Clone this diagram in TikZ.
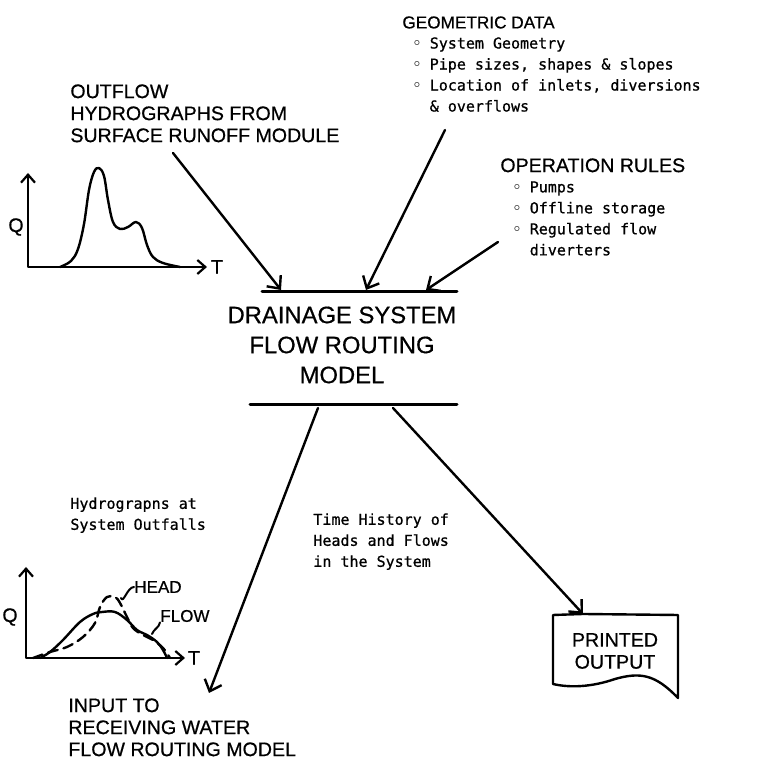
\documentclass[tikz,border=0pt]{standalone}
\usepackage{fontspec}
\setmainfont{Liberation Sans}[FakeBold=0.6]
\newfontfamily\typed{DejaVu Sans Mono}[FakeBold=0.8]
\usetikzlibrary{arrows.meta}
\newcommand{\bul}{\raisebox{.4ex}{\tiny$\circ$}\ }

\tikzset{
  caps/.style={inner sep=0pt, anchor=north west, align=left, font=\fontsize{9.8}{11}\selectfont},
  listtext/.style={inner sep=0pt, anchor=north west, align=left, font=\typed\fontsize{7.5}{10.5}\selectfont},
  flow/.style={line width=1.2pt, -{Straight Barb[length=5pt,width=9pt]}},
  bar/.style={line width=1.5pt},
  axis/.style={line width=1.1pt, {Straight Barb[length=4pt,width=7pt]}-{Straight Barb[length=4pt,width=7pt]}},
  curve/.style={line width=1.2pt}
}

\begin{document}
\begin{tikzpicture}[x=0.5pt, y=-0.5pt, line cap=round, line join=round]
  \useasboundingbox (0,0) rectangle (762,758);
  % inputs
  \node[caps] (outflow) at (70,84) {OUTFLOW\\HYDROGRAPHS FROM\\SURFACE RUNOFF MODULE};
  \node[caps, font=\fontsize{8.6}{10}\selectfont] (geo) at (402,16) {GEOMETRIC DATA};
  \node[listtext] (geolist) at (413,37) {\bul System Geometry\\\bul Pipe sizes, shapes \& slopes\\
    \bul Location of inlets, diversions\\\hphantom{\bul}\& overflows};
  \node[caps] (oper) at (500,158) {OPERATION RULES};
  \node[listtext] (operlist) at (513,181) {\bul Pumps\\\bul Offline storage\\\bul Regulated flow\\
    \hphantom{\bul}diverters};

  % model
  \node[inner sep=0pt, align=center, font=\fontsize{11.9}{15}\selectfont] (model) at (342,345)
    {DRAINAGE SYSTEM\\FLOW ROUTING\\MODEL};
  \coordinate (top1) at (262,292);
  \coordinate (top2) at (457,292);
  \coordinate (bot1) at (250,405);
  \coordinate (bot2) at (457,405);
  \draw[bar] (top1) -- (top2);
  \draw[bar] (bot1) -- (bot2);

  % arrows in
  \coordinate (o1) at (173,153);
  \coordinate (o2) at (445,130);
  \coordinate (o3) at (498,242);
  \coordinate (i1) at (281,290);
  \coordinate (i2) at (366,290);
  \coordinate (i3) at (426,290);
  \draw[flow] (o1) -- (i1);
  \draw[flow] (o2) -- (i2);
  \draw[flow] (o3) -- (i3);

  % inflow hydrograph
  \coordinate (g1) at (28,267);
  \draw[axis] (28,173) -- (g1) -- (207,267);
  \node[inner sep=0pt, font=\fontsize{9.8}{11}\selectfont] (q1) at (16,227) {Q};
  \node[inner sep=0pt, font=\fontsize{9.8}{11}\selectfont] (t1) at (217,267) {T};
  \draw[curve] plot[smooth, tension=0.6] coordinates {(60,267) (71,261) (78,249) (84,224) (89,190)
    (94,172) (99,168) (104,176) (108,200) (113,222) (120,229) (128,227) (136,222) (142,228)
    (147,245) (153,257) (163,263) (180,267)};

  % arrows out
  \coordinate (s1) at (318,408);
  \coordinate (s2) at (393,408);
  \coordinate (e1) at (209,693);
  \coordinate (e2) at (583,614);
  \draw[flow] (s1) -- (e1);
  \draw[flow] (s2) -- (e2);

  \node[listtext] (hydro) at (70,497) {Hydrograpns at\\System Outfalls};
  \node[listtext] (history) at (313,513) {Time History of\\Heads and Flows\\in the System};
  \node[caps] (receiving) at (68,698) {INPUT TO\\RECEIVING WATER\\FLOW ROUTING MODEL};

  % outfall hydrographs
  \coordinate (g2) at (26,658);
  \draw[axis] (26,567) -- (g2) -- (185,658);
  \node[inner sep=0pt, font=\fontsize{9.8}{11}\selectfont] (q2) at (10,617) {Q};
  \node[inner sep=0pt, font=\fontsize{9.8}{11}\selectfont] (t2) at (194,658) {T};
  \draw[curve] plot[smooth, tension=0.6] coordinates {(40,658) (50,652) (63,640) (80,622) (93,614)
    (102,612) (115,612) (127,620) (137,630) (147,635) (157,642) (163,650) (167,658)};
  \draw[curve, dashed, dash pattern=on 5pt off 3pt] plot[smooth, tension=0.6] coordinates {(33,658)
    (50,652) (67,647) (83,637) (95,623) (100,607) (107,597) (115,597) (120,603) (127,617)
    (133,628) (143,635) (153,640) (163,648) (170,658)};
  \node[inner sep=0pt, anchor=west, font=\fontsize{8.5}{10}\selectfont] (head) at (134,587) {HEAD};
  \node[inner sep=0pt, anchor=west, font=\fontsize{8.5}{10}\selectfont] (flowlbl) at (160,616) {FLOW};
  \draw[line width=1pt] (121,598) to[out=-70,in=180] (head.west);
  \draw[line width=1pt] (152,634) to[out=70,in=-100] (flowlbl.south west);

  % printout
  \node[inner sep=0pt, align=center, font=\fontsize{9.8}{11}\selectfont] (printed) at (615,651)
    {PRINTED\\OUTPUT};
  \draw[curve] (553,615) -- (e2) -- (678,615) -- (678,698) .. controls (655,674) and (640,672) ..
    (615,679) .. controls (592,687) and (570,688) .. (553,684) -- cycle;
\end{tikzpicture}
\end{document}
